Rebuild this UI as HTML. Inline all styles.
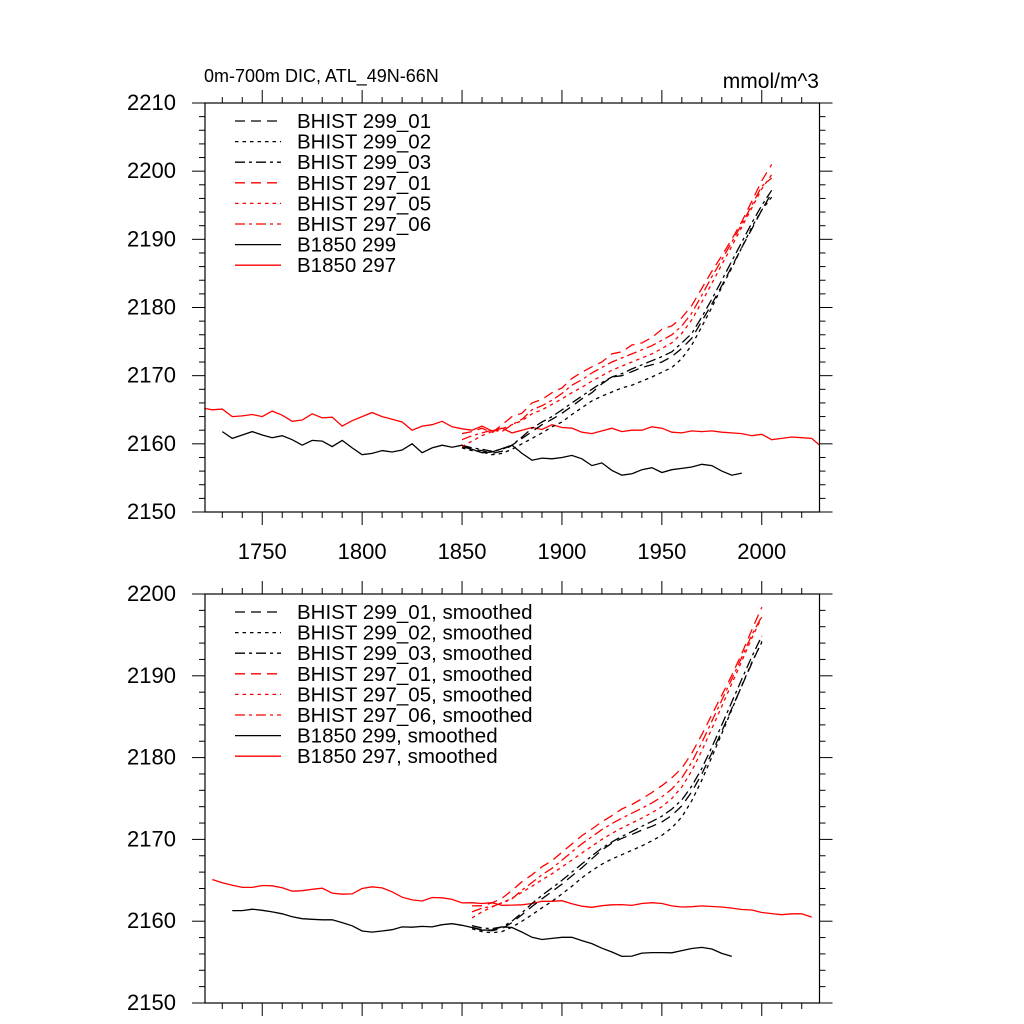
<!DOCTYPE html>
<html><head><meta charset="utf-8"><style>
html,body{margin:0;padding:0;background:#fff;}
svg{display:block;font-family:"Liberation Sans",sans-serif;}
</style></head><body>
<svg id="chart" width="1024" height="1024" viewBox="0 0 1024 1024" xmlns="http://www.w3.org/2000/svg">
<rect width="1024" height="1024" fill="#fff"/>
<text x="204" y="82" font-size="18">0m-700m DIC, ATL_49N-66N</text>
<text x="819" y="88" font-size="21" text-anchor="end">mmol/m^3</text>
<g id="top"></g><g id="bot"></g>
</svg>
<script>
// ---- data ----
const b1850Years297 = [1721,1725,1730,1735,1740,1745,1750,1755,1760,1765,1770,1775,1780,1785,1790,1795,1800,1805,1810,1815,1820,1825,1830,1835,1840,1845,1850,1855,1860,1865,1870,1875,1880,1885,1890,1895,1900,1905,1910,1915,1920,1925,1930,1935,1940,1945,1950,1955,1960,1965,1970,1975,1980,1985,1990,1995,2000,2005,2010,2015,2020,2025,2029];
const b1850Vals297 = [2165.2,2165.0,2165.1,2164.0,2164.1,2164.3,2164.0,2164.8,2164.2,2163.3,2163.5,2164.4,2163.8,2163.9,2162.6,2163.4,2164.0,2164.6,2164.0,2163.6,2163.2,2162.0,2162.6,2162.8,2163.3,2162.5,2162.2,2162.0,2162.6,2161.9,2162.3,2161.6,2162.0,2162.4,2162.1,2162.8,2162.4,2162.3,2161.7,2161.5,2161.9,2162.3,2161.8,2162.0,2162.0,2162.5,2162.3,2161.7,2161.6,2161.9,2161.8,2161.9,2161.7,2161.6,2161.5,2161.2,2161.4,2160.6,2160.8,2161.0,2160.9,2160.8,2159.8];
const b1850Years299 = [1730,1735,1740,1745,1750,1755,1760,1765,1770,1775,1780,1785,1790,1795,1800,1805,1810,1815,1820,1825,1830,1835,1840,1845,1850,1855,1860,1865,1870,1875,1880,1885,1890,1895,1900,1905,1910,1915,1920,1925,1930,1935,1940,1945,1950,1955,1960,1965,1970,1975,1980,1985,1990];
const b1850Vals299 = [2161.8,2160.8,2161.3,2161.8,2161.3,2160.9,2161.2,2160.6,2159.8,2160.5,2160.4,2159.6,2160.5,2159.4,2158.4,2158.6,2159.0,2158.8,2159.1,2160.0,2158.7,2159.4,2159.8,2159.5,2159.8,2159.2,2158.7,2158.8,2159.3,2159.8,2158.6,2157.6,2157.9,2157.8,2158.0,2158.3,2157.8,2156.8,2157.2,2156.1,2155.4,2155.6,2156.2,2156.5,2155.8,2156.2,2156.4,2156.6,2157.0,2156.8,2156.0,2155.4,2155.7];
const histYears = [1850,1855,1860,1865,1870,1875,1880,1885,1890,1895,1900,1905,1910,1915,1920,1925,1930,1935,1940,1945,1950,1955,1960,1965,1970,1975,1980,1985,1990,1995,2000,2005];
const hist299_01 = [2159.6,2159.2,2159.0,2158.6,2158.9,2159.8,2160.8,2161.8,2162.8,2163.6,2164.5,2165.5,2166.6,2167.5,2168.8,2169.8,2170.0,2170.6,2171.2,2171.6,2172.0,2172.8,2174.0,2175.5,2178.0,2180.5,2183.2,2186.0,2188.8,2191.5,2194.3,2196.8];
const hist299_02 = [2159.4,2159.0,2158.8,2158.4,2158.6,2159.2,2160.0,2160.8,2161.6,2162.5,2163.2,2164.3,2165.3,2166.3,2167.0,2167.6,2168.2,2168.6,2169.2,2169.8,2170.5,2171.2,2172.5,2174.5,2177.2,2180.0,2183.0,2185.8,2188.8,2191.8,2194.3,2196.2];
const hist299_03 = [2159.8,2159.4,2159.2,2158.9,2159.2,2159.8,2161.0,2162.3,2163.2,2164.0,2165.0,2166.0,2167.0,2168.0,2169.0,2169.8,2170.3,2171.0,2171.6,2172.2,2172.8,2173.5,2174.8,2176.2,2178.6,2181.2,2184.0,2186.8,2189.6,2192.4,2195.0,2197.2];
const hist297_01 = [2161.5,2161.8,2162.3,2161.6,2162.8,2164.0,2164.5,2166.0,2166.5,2167.5,2168.2,2169.6,2170.5,2171.3,2172.0,2173.2,2173.5,2174.5,2174.8,2175.6,2176.8,2177.3,2178.5,2180.3,2182.8,2185.3,2187.6,2190.0,2192.6,2195.6,2198.6,2201.0];
const hist297_05 = [2159.6,2160.4,2161.2,2161.8,2162.2,2162.8,2163.4,2164.4,2165.0,2165.8,2166.6,2167.5,2168.3,2169.2,2170.0,2170.8,2171.4,2172.0,2172.6,2173.2,2174.0,2174.8,2176.2,2178.2,2180.8,2183.5,2186.3,2189.0,2191.8,2194.6,2197.4,2199.5];
const hist297_06 = [2160.6,2161.2,2161.6,2162.0,2161.8,2162.8,2163.6,2165.0,2165.6,2166.4,2167.4,2168.6,2169.4,2170.4,2171.2,2172.0,2172.6,2173.2,2173.8,2174.4,2175.2,2176.0,2177.3,2179.2,2181.8,2184.5,2187.0,2189.6,2192.2,2195.0,2197.8,2199.0];
const xTicks = [1750,1800,1850,1900,1950,2000];
const yTicksTop = [2150,2160,2170,2180,2190,2200,2210];
const yTicksBot = [2150,2160,2170,2180,2190,2200];

const NS='http://www.w3.org/2000/svg';
const X0=205,X1=819.5,XMIN=1721.35,XMAX=2028.9;
const xs=v=>X0+(v-XMIN)/(XMAX-XMIN)*(X1-X0);
function el(tag,attrs,parent){const e=document.createElementNS(NS,tag);for(const k in attrs)e.setAttribute(k,attrs[k]);parent.appendChild(e);return e;}
function smooth(a){const r=[];for(let i=1;i<a.length-1;i++)r.push((a[i-1]+a[i]+a[i+1])/3);return r;}
const DASH={solid:'',long:'10,6',dot:'3.5,4',dashdot:'10,4,3,4'};

function panel(g,Y0,Y1,YMIN,YMAX,yTicks,showX,sm){
  const ys=v=>Y1-(v-YMIN)/(YMAX-YMIN)*(Y1-Y0);
  const sfx=sm?'-smoothed':'';
  for(let y=YMIN;y<=YMAX+0.001;y+=2){const maj=Math.abs((y-YMIN)%10)<0.01;const L=maj?13:6;
    const t1=el('line',{x1:X0-L,x2:X0,y1:ys(y),y2:ys(y),stroke:'#000','stroke-width':1},g);
    
    const t2=el('line',{x1:X1,x2:X1+L,y1:ys(y),y2:ys(y),stroke:'#000','stroke-width':1},g);
    }
  for(let x=1730;x<=XMAX;x+=10){const maj=x%50===0;const L=maj?13:6;
    const t1=el('line',{x1:xs(x),x2:xs(x),y1:Y0-L,y2:Y0,stroke:'#000','stroke-width':1},g);
    
    const t2=el('line',{x1:xs(x),x2:xs(x),y1:Y1,y2:Y1+L,stroke:'#000','stroke-width':1},g);
    }
  yTicks.forEach(v=>{const t=el('text',{x:176,y:ys(v)+7,'font-size':22,'text-anchor':'end'},g);t.textContent=v;
    });
  if(showX)xTicks.forEach(v=>{const t=el('text',{x:xs(v),y:559,'font-size':22,'text-anchor':'middle'},g);t.textContent=v;
    });
  const series=[
    ['b1850-297','red','solid',b1850Years297,b1850Vals297],
    ['b1850-299','black','solid',b1850Years299,b1850Vals299],
    ['bhist-299-02','black','dot',histYears,hist299_02],
    ['bhist-299-01','black','long',histYears,hist299_01],
    ['bhist-299-03','black','dashdot',histYears,hist299_03],
    ['bhist-297-05','red','dot',histYears,hist297_05],
    ['bhist-297-06','red','dashdot',histYears,hist297_06],
    ['bhist-297-01','red','long',histYears,hist297_01]];
  series.forEach(s=>{let yr=s[3],v=s[4];if(sm){yr=yr.slice(1,-1);v=smooth(v);}
    const d=yr.map((y,i)=>(i?'L':'M')+xs(y).toFixed(1)+','+ys(v[i]).toFixed(1)).join('');
    const p=el('path',{d:d,fill:'none',stroke:s[1],'stroke-width':1.3,'stroke-dasharray':DASH[s[2]]},g);
    });
  const fr=el('rect',{x:X0,y:Y0,width:X1-X0,height:Y1-Y0,fill:'none',stroke:'#000','stroke-width':1.2},g);
  
  const leg=[['BHIST 299_01','black','long'],['BHIST 299_02','black','dot'],['BHIST 299_03','black','dashdot'],
    ['BHIST 297_01','red','long'],['BHIST 297_05','red','dot'],['BHIST 297_06','red','dashdot'],
    ['B1850 299','black','solid'],['B1850 297','red','solid']];
  leg.forEach((l,i)=>{const y=Y0+18+i*20.6;
    const ln=el('line',{x1:235,x2:281,y1:y,y2:y,stroke:l[1],'stroke-width':1.3,'stroke-dasharray':DASH[l[2]]},g);
    
    const t=el('text',{x:297,y:y+7,'font-size':20.5},g);t.textContent=l[0]+(sm?', smoothed':'');
    });
}
panel(document.getElementById('top'),103,512,2150,2210,yTicksTop,true,false);
panel(document.getElementById('bot'),594,1003,2150,2200,yTicksBot,false,true);
</script>
</body></html>
